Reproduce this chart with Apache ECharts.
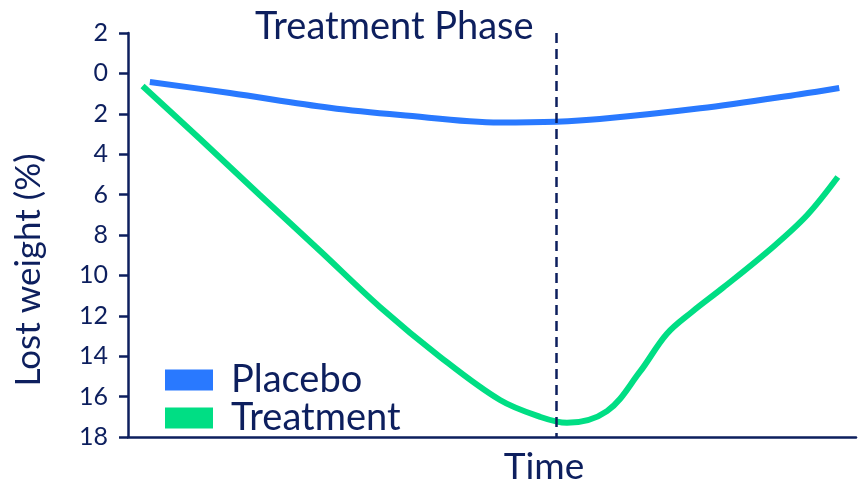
<!DOCTYPE html>
<html>
<head>
<meta charset="utf-8">
<script src="https://cdn.jsdelivr.net/npm/echarts@6/dist/echarts.min.js"></script>
<style>html,body{margin:0;padding:0;background:#fff}#c{width:858px;height:481px}</style>
</head>
<body>
<div id="c"></div>
<script>
// Data
const placeboTime = [3.0, 14.0, 27.7, 37.4, 51.1, 58.8, 64.8, 78.6, 92.3, 97.7];
const placeboLoss = [0.43, 0.97, 1.70, 2.06, 2.43, 2.39, 2.26, 1.73, 1.03, 0.72];
const treatmentTime = [2.0, 9.9, 18.1, 26.4, 34.6, 42.9, 51.1, 56.6, 60.3, 65.8, 70.3, 74.0, 77.5, 81.7, 88.6, 93.3, 97.5];
const treatmentLoss = [0.62, 3.25, 6.02, 8.79, 11.56, 14.04, 16.17, 17.00, 17.30, 16.72, 14.78, 12.90, 11.80, 10.62, 8.59, 7.01, 5.13];
const seriesNames = ['Placebo', 'Treatment'];
const yTicks = [-2, 0, 2, 4, 6, 8, 10, 12, 14, 16, 18];
const yTickLabels = ['2', '0', '2', '4', '6', '8', '10', '12', '14', '16', '18'];
const phaseStart = 58.8;
const titleText = 'Treatment Phase';
const xName = 'Time';
const yName = 'Lost weight (%)';

const NAVY = '#0d1f5e';
const FONT = 'Lato';
const pairs = (xs, ys) => xs.map((x, i) => [x, ys[i]]);

const chart = echarts.init(document.getElementById('c'), null, {renderer: 'canvas'});
chart.setOption({
  animation: false,
  backgroundColor: '#ffffff',
  title: {
    text: titleText,
    left: 250, top: 3,
    textStyle: {fontFamily: FONT, fontSize: 38, fontWeight: 'normal', color: NAVY}
  },
  legend: {
    orient: 'vertical',
    left: 165, top: 361,
    padding: 0,
    itemGap: 0,
    itemWidth: 48, itemHeight: 21,
    icon: 'rect',
    textStyle: {fontFamily: FONT, fontSize: 38, color: NAVY, lineHeight: 30, padding: [0, 0, 0, 13]},
    data: seriesNames
  },
  grid: {left: 128, right: 2, top: 33, bottom: 44, containLabel: false, outerBoundsMode: 'none'},
  xAxis: {
    type: 'value', min: 0, max: 100, position: 'bottom',
    name: xName, nameLocation: 'middle', nameGap: 12,
    nameTextStyle: {fontFamily: FONT, fontSize: 37, color: NAVY, padding: [0, 0, 0, 104], verticalAlign: 'top'},
    axisLine: {show: true, onZero: false, lineStyle: {color: NAVY, width: 2.5}},
    axisTick: {show: false}, axisLabel: {show: false}, splitLine: {show: false}
  },
  yAxis: {
    type: 'value', min: -2, max: 18, interval: 2, inverse: true,
    name: yName, nameLocation: 'middle', nameGap: 82,
    nameTextStyle: {fontFamily: FONT, fontSize: 35, color: NAVY, padding: [0, 70, 0, 0]},
    axisLine: {show: true, onZero: false, lineStyle: {color: NAVY, width: 2.5}},
    axisTick: {show: true, length: 9, lineStyle: {color: NAVY, width: 2.5}},
    axisLabel: {
      margin: 20, fontFamily: FONT, fontSize: 25, color: NAVY,
      formatter: v => yTickLabels[yTicks.indexOf(v)] ?? ''
    },
    splitLine: {show: false}
  },
  series: [
    {
      name: seriesNames[0], type: 'line', smooth: 0.35, showSymbol: false, symbol: 'none',
      data: pairs(placeboTime, placeboLoss),
      itemStyle: {color: '#2979ff'},
      lineStyle: {color: '#2979ff', width: 6, cap: 'butt'},
      markLine: {
        silent: true, symbol: 'none', label: {show: false},
        lineStyle: {color: NAVY, width: 2.5, type: [10, 6]},
        data: [{xAxis: phaseStart}]
      },
      z: 3
    },
    {
      name: seriesNames[1], type: 'line', smooth: 0.35, showSymbol: false, symbol: 'none',
      data: pairs(treatmentTime, treatmentLoss),
      itemStyle: {color: '#00de84'},
      lineStyle: {color: '#00de84', width: 6, cap: 'butt'},
      z: 2
    }
  ]
});
</script>
</body>
</html>
